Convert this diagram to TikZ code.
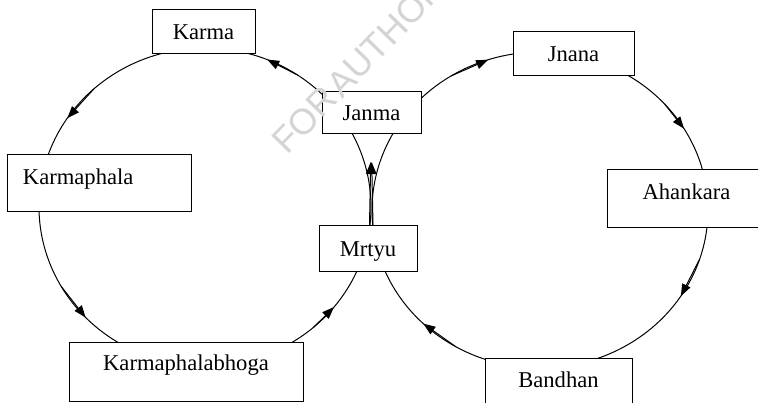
\documentclass[tikz,border=0pt]{standalone}
\usepackage{fontspec}
\setmainfont{Liberation Serif}
\newfontfamily\wmfont[WordSpace=0.3]{Liberation Sans}
\usetikzlibrary{arrows.meta,calc,backgrounds}

% arc of an ellipse: centre, x radius, y radius, start angle, end angle
\newcommand{\ringarc}[5]{%
  \draw[ring] ($(#1)+(#4:#2pt and #3pt)$)
    arc[start angle=#4, end angle=#5, x radius=#2pt, y radius=#3pt];}
% straight arrow along a short chord of the same ellipse
\newcommand{\ringchord}[5]{%
  \draw[chord] ($(#1)+(#4:#2pt and #3pt)$) -- ($(#1)+(#5:#2pt and #3pt)$);}

\begin{document}
\begin{tikzpicture}[x=1pt,y=1pt,
  box/.style={draw, line width=1pt, fill=white, inner sep=0pt,
    font=\fontsize{22.6}{27}\selectfont, text height=15pt, text depth=0pt},
  ring/.style={line width=1pt},
  chord/.style={line width=1pt, -{Triangle[length=12pt,width=9pt]}},
  wmtext/.style={text=black!17, font=\wmfont\fontsize{36}{36}\selectfont},
]
\useasboundingbox (0,0) rectangle (758,402);
\clip (0,0) rectangle (758,402);

% the stages
\node[box, minimum width=103pt, minimum height=44pt] (karma) at (203.5,370) {Karma};
\node[box, minimum width=99pt, minimum height=42pt] (janma) at (371.5,289) {Janma};
\node[box, minimum width=98pt, minimum height=46pt] (mrtyu) at (368,153) {Mrtyu};
\node[box, minimum width=184pt, minimum height=57pt, text width=152pt,
      align=left, text depth=12pt] (karmaphala) at (99,218.5) {Karmaphala};
\node[box, minimum width=234pt, minimum height=59pt, text depth=16.4pt]
      (bhoga) at (186,30.5) {Karmaphalabhoga};
\node[box, minimum width=121pt, minimum height=44pt] (jnana) at (573.5,348) {Jnana};
\node[box, minimum width=159pt, minimum height=58pt, text depth=13pt]
      (ahankara) at (686.5,203) {Ahankara};
\node[box, minimum width=147pt, minimum height=52pt, text depth=7.6pt]
      (bandhan) at (558.5,18) {Bandhan};

\begin{scope}[on background layer]
  \coordinate (Lc) at (205,195);
  \coordinate (Rc) at (540,192);

  % left cycle: Janma, Karma, Karmaphala, Karmaphalabhoga, Mrtyu
  \ringarc{Lc}{166}{159}{36}{90}
  \ringarc{Lc}{166}{159}{90}{170}
  \ringarc{Lc}{166}{159}{170}{270}
  \ringarc{Lc}{166}{159}{270}{345}
  \ringarc{Lc}{166}{159}{345}{396}
  \ringchord{Lc}{166}{159}{56}{68}
  \ringchord{Lc}{166}{159}{132}{146}
  \ringchord{Lc}{166}{159}{210}{224}
  \ringchord{Lc}{166}{159}{-49}{-39}

  % right cycle: Janma, Jnana, Ahankara, Bandhan, Mrtyu
  \ringarc{Rc}{168}{158}{142}{80}
  \ringarc{Rc}{168}{158}{80}{4}
  \ringarc{Rc}{168}{158}{4}{-90}
  \ringarc{Rc}{168}{158}{-90}{-165}
  \ringarc{Rc}{168}{158}{195}{142}
  \ringchord{Rc}{168}{158}{122}{108}
  \ringchord{Rc}{168}{158}{42}{31}
  \ringchord{Rc}{168}{158}{-18}{-33}
  \ringchord{Rc}{168}{158}{-120}{-134}

  % shared step from Mrtyu up to Janma
  \coordinate (tipJ) at (371.2,240);
  \draw[chord] ([xshift=1.5pt]mrtyu.north) -- ([xshift=-0.5pt]tipJ);
  \draw[chord] ([xshift=5pt]mrtyu.north) -- ([xshift=0.5pt]tipJ);
\end{scope}

% faint diagonal stamp over the drawing
\node[wmtext, rotate=46, anchor=base west, inner sep=0pt] (wm) at (287,246) {FOR AUTHOR};
\end{tikzpicture}
\end{document}
